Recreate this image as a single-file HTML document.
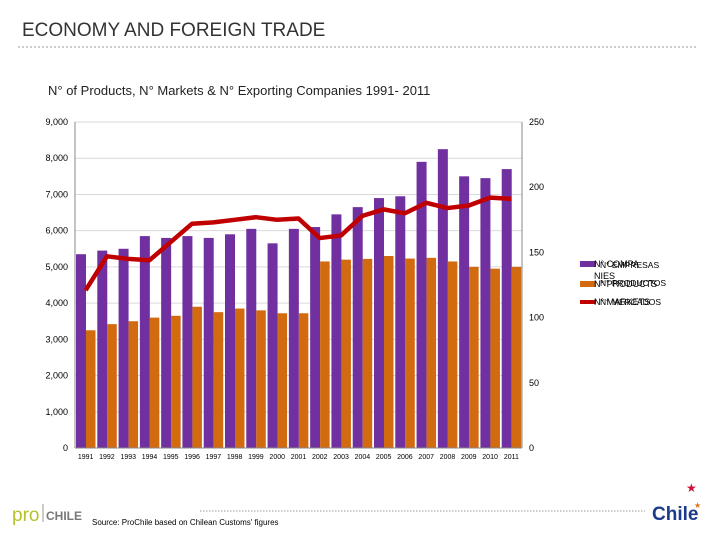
<!DOCTYPE html>
<html><head><meta charset="utf-8"><style>
body{margin:0;background:#fff;font-family:"Liberation Sans","DejaVu Sans",sans-serif;}
#root{position:relative;width:720px;height:540px;overflow:hidden;background:#fff}
</style></head><body>
<div id="root">
<svg width="720" height="540" xmlns="http://www.w3.org/2000/svg" id="svg">
<text x="22" y="36" font-size="19" fill="#333">ECONOMY AND FOREIGN TRADE</text>
<line x1="18" y1="47" x2="697" y2="47" stroke="#999" stroke-dasharray="2,2"/>
<text x="48" y="95" font-size="13" fill="#222">N° of Products, N° Markets  &amp; N° Exporting Companies 1991- 2011</text>
<g id="grid"></g>
<g id="bars"></g>
<g id="axes"></g>
<g id="line"></g>
<g font-size="9" fill="#000">
<rect x="580" y="261" width="16" height="6" fill="#7030a0"/>
<text x="594" y="267">N° COMPA</text>
<text x="600" y="268" font-size="8.5">N° EMPRESAS</text>
<text x="594" y="279">NIES</text>
<rect x="580" y="281" width="16" height="6" fill="#d26a10"/>
<text x="594" y="287">N° PRODUCTS</text>
<text x="600" y="286" font-size="8.5">N° PRODUCTOS</text>
<rect x="580" y="300" width="16" height="4" fill="#c00000"/>
<text x="594" y="305">N° MARKETS</text>
<text x="600" y="305" font-size="8.5">N° MERCADOS</text>
</g>
<line x1="200" y1="511" x2="645" y2="511" stroke="#999" stroke-dasharray="1.5,1.5"/>
<text x="12" y="521" font-size="19" fill="#b5c22a">pro</text>
<line x1="43" y1="504" x2="43" y2="522" stroke="#999"/>
<text x="46" y="520" font-size="12" font-weight="bold" fill="#777">CHILE</text>
<text x="92" y="525" font-size="8" fill="#000">Source: ProChile based on Chilean Customs' figures</text>
<text x="652" y="520" font-size="19" font-weight="bold" fill="#1b3a8c">Chile</text>
<text x="686" y="492" font-size="12" fill="#d0103a">★</text>
<text x="694" y="508" font-size="8" fill="#e07020">★</text>
</svg>
</div>
<script>
const years=["1991","1992","1993","1994","1995","1996","1997","1998","1999","2000","2001","2002","2003","2004","2005","2006","2007","2008","2009","2010","2011"];
const companies=[5350,5450,5500,5850,5800,5850,5800,5900,6050,5650,6050,6100,6450,6650,6900,6950,7900,8250,7500,7450,7700];
const products=[3250,3420,3500,3600,3650,3900,3750,3850,3800,3720,3720,5150,5200,5220,5300,5230,5250,5150,5000,4950,5000];
const markets=[121,147,145,144,158,172,173,175,177,175,176,161,163,178,183,180,188,184,186,192,191];
const leftTicks=[0,1000,2000,3000,4000,5000,6000,7000,8000,9000];
const leftLabels=["0","1,000","2,000","3,000","4,000","5,000","6,000","7,000","8,000","9,000"];
const rightTicks=[0,50,100,150,200,250];
const NS="http://www.w3.org/2000/svg";
const X0=75,X1=522,Y0=448,Y1=122;
const gw=(X1-X0)/years.length;
const yL=v=>Y0-(v/9000)*(Y0-Y1);
const yR=v=>Y0-(v/250)*(Y0-Y1);
const xg=i=>X0+i*gw;
function mk(t,a,p){const e=document.createElementNS(NS,t);for(const k in a)e.setAttribute(k,a[k]);p.appendChild(e);return e;}
const grid=document.getElementById('grid'),bars=document.getElementById('bars'),axes=document.getElementById('axes'),line=document.getElementById('line');
leftTicks.forEach((v,i)=>{
 const g=mk('line',{x1:X0,x2:X1,y1:yL(v),y2:yL(v),stroke:'#d9d9d9','stroke-width':1},grid);
 
 
 const t=mk('text',{x:X0-7,y:yL(v)+3,'font-size':9,'text-anchor':'end',fill:'#000'},axes);
 t.textContent=leftLabels[i];
 
 
});
rightTicks.forEach(v=>{
 const t=mk('text',{x:X1+7,y:yR(v)+3,'font-size':9,fill:'#000'},axes);
 t.textContent=String(v);
 
 
});
years.forEach((y,i)=>{
 const x=xg(i);
 const b1=mk('rect',{x:x+1,y:yL(companies[i]),width:10,height:Y0-yL(companies[i]),fill:'#7030a0'},bars);
 
 
 const b2=mk('rect',{x:x+11,y:yL(products[i]),width:9.5,height:Y0-yL(products[i]),fill:'#d26a10'},bars);
 
 
 const t=mk('text',{x:x+gw/2,y:Y0+11,'font-size':7,'text-anchor':'middle',fill:'#000'},axes);
 t.textContent=y;
 
 
});
const la=mk('line',{x1:X0,x2:X0,y1:Y1,y2:Y0,stroke:'#888'},axes);


const ra=mk('line',{x1:X1,x2:X1,y1:Y1,y2:Y0,stroke:'#888'},axes);


const xa=mk('line',{x1:X0,x2:X1,y1:Y0,y2:Y0,stroke:'#888'},axes);


const pts=markets.map((v,i)=>(xg(i)+gw/2)+','+yR(v)).join(' ');
const pl=mk('polyline',{points:pts,fill:'none',stroke:'#c00000','stroke-width':4.5,'stroke-linejoin':'round'},line);


</script>
</body></html>
